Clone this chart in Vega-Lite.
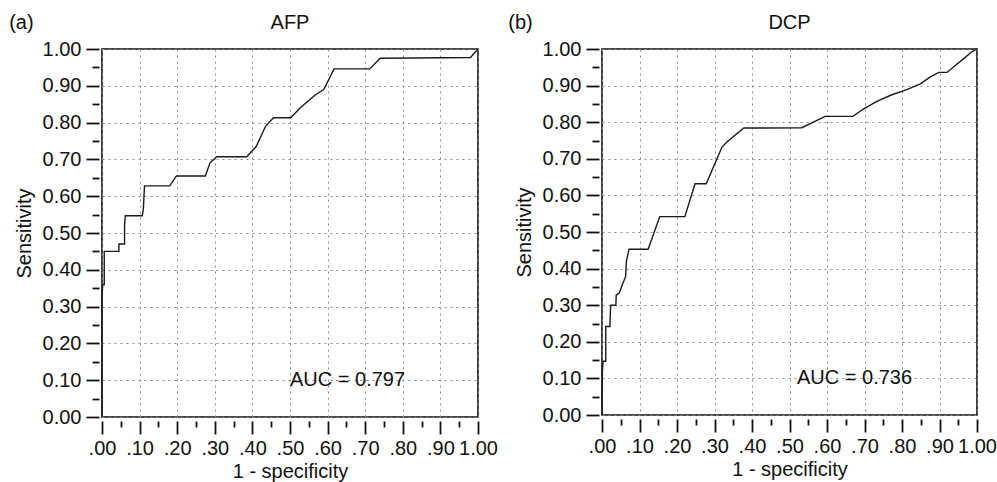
{
  "$schema": "https://vega.github.io/schema/vega-lite/v6.json",
  "background": "white",
  "padding": {"left": 8, "top": 12, "right": 5, "bottom": 0},
  "spacing": 8,
  "datasets": {
    "afp": [
      {"fpr": 0, "tpr": 0}, {"fpr": 0, "tpr": 0.33}, {"fpr": 0.002, "tpr": 0.36}, {"fpr": 0.006, "tpr": 0.36},
      {"fpr": 0.006, "tpr": 0.45}, {"fpr": 0.045, "tpr": 0.45}, {"fpr": 0.045, "tpr": 0.47}, {"fpr": 0.06, "tpr": 0.47},
      {"fpr": 0.06, "tpr": 0.52}, {"fpr": 0.062, "tpr": 0.547}, {"fpr": 0.107, "tpr": 0.547}, {"fpr": 0.11, "tpr": 0.565},
      {"fpr": 0.113, "tpr": 0.628}, {"fpr": 0.18, "tpr": 0.628}, {"fpr": 0.198, "tpr": 0.655}, {"fpr": 0.275, "tpr": 0.655},
      {"fpr": 0.287, "tpr": 0.69}, {"fpr": 0.305, "tpr": 0.707}, {"fpr": 0.385, "tpr": 0.707}, {"fpr": 0.41, "tpr": 0.735},
      {"fpr": 0.435, "tpr": 0.79}, {"fpr": 0.456, "tpr": 0.813}, {"fpr": 0.502, "tpr": 0.813}, {"fpr": 0.528, "tpr": 0.841},
      {"fpr": 0.567, "tpr": 0.875}, {"fpr": 0.59, "tpr": 0.89}, {"fpr": 0.617, "tpr": 0.946}, {"fpr": 0.712, "tpr": 0.946},
      {"fpr": 0.74, "tpr": 0.975}, {"fpr": 0.98, "tpr": 0.977}, {"fpr": 1, "tpr": 1}
    ],
    "dcp": [
      {"fpr": 0, "tpr": 0}, {"fpr": 0.001, "tpr": 0.12}, {"fpr": 0.003, "tpr": 0.147}, {"fpr": 0.01, "tpr": 0.147},
      {"fpr": 0.01, "tpr": 0.242}, {"fpr": 0.021, "tpr": 0.242}, {"fpr": 0.023, "tpr": 0.3}, {"fpr": 0.037, "tpr": 0.3},
      {"fpr": 0.038, "tpr": 0.328}, {"fpr": 0.046, "tpr": 0.333}, {"fpr": 0.054, "tpr": 0.356}, {"fpr": 0.063, "tpr": 0.378},
      {"fpr": 0.065, "tpr": 0.42}, {"fpr": 0.072, "tpr": 0.453}, {"fpr": 0.123, "tpr": 0.453}, {"fpr": 0.154, "tpr": 0.542},
      {"fpr": 0.221, "tpr": 0.542}, {"fpr": 0.248, "tpr": 0.632}, {"fpr": 0.278, "tpr": 0.632}, {"fpr": 0.32, "tpr": 0.732},
      {"fpr": 0.333, "tpr": 0.746}, {"fpr": 0.378, "tpr": 0.784}, {"fpr": 0.533, "tpr": 0.785}, {"fpr": 0.595, "tpr": 0.816},
      {"fpr": 0.669, "tpr": 0.816}, {"fpr": 0.697, "tpr": 0.836}, {"fpr": 0.733, "tpr": 0.857}, {"fpr": 0.773, "tpr": 0.875},
      {"fpr": 0.813, "tpr": 0.889}, {"fpr": 0.849, "tpr": 0.905}, {"fpr": 0.875, "tpr": 0.923}, {"fpr": 0.898, "tpr": 0.936},
      {"fpr": 0.92, "tpr": 0.936}, {"fpr": 0.942, "tpr": 0.955}, {"fpr": 0.964, "tpr": 0.973}, {"fpr": 0.987, "tpr": 0.993},
      {"fpr": 1, "tpr": 1}
    ]
  },
  "config": {
    "font": "Liberation Sans",
    "view": {"stroke": "#111", "strokeWidth": 1.6},
    "axis": {
      "domain": false,
      "gridColor": "#8a8a8a",
      "gridDash": [2, 4],
      "gridWidth": 1,
      "gridOpacity": 1,
      "tickColor": "#111",
      "tickWidth": 1.8,
      "labelFontSize": 20,
      "labelColor": "#111",
      "labelOverlap": false,
      "labelFlush": false,
      "titleFontSize": 20,
      "titleFontWeight": "normal",
      "titleColor": "#111"
    }
  },
  "hconcat": [
    {
      "width": 376,
      "height": 368,
      "resolve": {"axis": {"x": "independent", "y": "independent"}},
      "layer": [
        {
          "data": {"name": "afp"},
          "mark": {"type": "line", "color": "#1a1a1a", "strokeWidth": 1.4},
          "encoding": {
            "x": {"field": "fpr", "type": "quantitative", "scale": {"domain": [0, 1]}, "title": "1 - specificity",
              "axis": {"orient": "bottom", "values": [0, 0.1, 0.2, 0.3, 0.4, 0.5, 0.6, 0.7, 0.8, 0.9, 1], "grid": true, "offset": 4, "tickSize": 13,
                "labelExpr": "datum.value == 1 ? '1.00' : replace(format(datum.value, '.2f'), '0.', '.')", "labelPadding": 4, "titlePadding": 3}},
            "y": {"field": "tpr", "type": "quantitative", "scale": {"domain": [0, 1]}, "title": "Sensitivity",
              "axis": {"orient": "left", "values": [0, 0.1, 0.2, 0.3, 0.4, 0.5, 0.6, 0.7, 0.8, 0.9, 1], "grid": true, "offset": 3, "tickSize": 13,
                "format": ".2f", "labelPadding": 5, "titlePadding": 8}},
            "order": {"value": null}
          }
        },
        {
          "data": {"values": [{"label": "AUC = 0.797"}]},
          "mark": {"type": "text", "align": "left", "baseline": "middle", "fontSize": 20, "color": "#111"},
          "encoding": {
            "x": {"datum": 0.5, "type": "quantitative",
              "axis": {"orient": "bottom", "values": [0.05, 0.15, 0.25, 0.35, 0.45, 0.55, 0.65, 0.75, 0.85, 0.95], "grid": false, "offset": 4, "tickSize": 6, "labels": false, "title": null}},
            "y": {"datum": 0.1, "type": "quantitative",
              "axis": {"orient": "left", "values": [0.05, 0.15, 0.25, 0.35, 0.45, 0.55, 0.65, 0.75, 0.85, 0.95], "grid": false, "offset": 3, "tickSize": 7, "labels": false, "title": null}},
            "text": {"field": "label"}
          }
        },
        {
          "data": {"values": [{"label": "(a)"}]},
          "mark": {"type": "text", "align": "left", "baseline": "middle", "fontSize": 20, "color": "#111"},
          "encoding": {"x": {"datum": -0.247, "type": "quantitative", "axis": null}, "y": {"datum": 1.071, "type": "quantitative", "axis": null}, "text": {"field": "label"}}
        },
        {
          "data": {"values": [{"label": "AFP"}]},
          "mark": {"type": "text", "align": "center", "baseline": "middle", "fontSize": 20, "color": "#111"},
          "encoding": {"x": {"datum": 0.5, "type": "quantitative", "axis": null}, "y": {"datum": 1.071, "type": "quantitative", "axis": null}, "text": {"field": "label"}}
        }
      ]
    },
    {
      "width": 375,
      "height": 366,
      "resolve": {"axis": {"x": "independent", "y": "independent"}},
      "layer": [
        {
          "data": {"name": "dcp"},
          "mark": {"type": "line", "color": "#1a1a1a", "strokeWidth": 1.4},
          "encoding": {
            "x": {"field": "fpr", "type": "quantitative", "scale": {"domain": [0, 1]}, "title": "1 - specificity",
              "axis": {"orient": "bottom", "values": [0, 0.1, 0.2, 0.3, 0.4, 0.5, 0.6, 0.7, 0.8, 0.9, 1], "grid": true, "offset": 4, "tickSize": 13,
                "labelExpr": "datum.value == 1 ? '1.00' : replace(format(datum.value, '.2f'), '0.', '.')", "labelPadding": 4, "titlePadding": 3}},
            "y": {"field": "tpr", "type": "quantitative", "scale": {"domain": [0, 1]}, "title": "Sensitivity",
              "axis": {"orient": "left", "values": [0, 0.1, 0.2, 0.3, 0.4, 0.5, 0.6, 0.7, 0.8, 0.9, 1], "grid": true, "offset": 3, "tickSize": 13,
                "format": ".2f", "labelPadding": 5, "titlePadding": 8}},
            "order": {"value": null}
          }
        },
        {
          "data": {"values": [{"label": "AUC = 0.736"}]},
          "mark": {"type": "text", "align": "left", "baseline": "middle", "fontSize": 20, "color": "#111"},
          "encoding": {
            "x": {"datum": 0.52, "type": "quantitative",
              "axis": {"orient": "bottom", "values": [0.05, 0.15, 0.25, 0.35, 0.45, 0.55, 0.65, 0.75, 0.85, 0.95], "grid": false, "offset": 4, "tickSize": 6, "labels": false, "title": null}},
            "y": {"datum": 0.1, "type": "quantitative",
              "axis": {"orient": "left", "values": [0.05, 0.15, 0.25, 0.35, 0.45, 0.55, 0.65, 0.75, 0.85, 0.95], "grid": false, "offset": 3, "tickSize": 7, "labels": false, "title": null}},
            "text": {"field": "label"}
          }
        },
        {
          "data": {"values": [{"label": "(b)"}]},
          "mark": {"type": "text", "align": "left", "baseline": "middle", "fontSize": 20, "color": "#111"},
          "encoding": {"x": {"datum": -0.25, "type": "quantitative", "axis": null}, "y": {"datum": 1.071, "type": "quantitative", "axis": null}, "text": {"field": "label"}}
        },
        {
          "data": {"values": [{"label": "DCP"}]},
          "mark": {"type": "text", "align": "center", "baseline": "middle", "fontSize": 20, "color": "#111"},
          "encoding": {"x": {"datum": 0.5, "type": "quantitative", "axis": null}, "y": {"datum": 1.071, "type": "quantitative", "axis": null}, "text": {"field": "label"}}
        }
      ]
    }
  ]
}
